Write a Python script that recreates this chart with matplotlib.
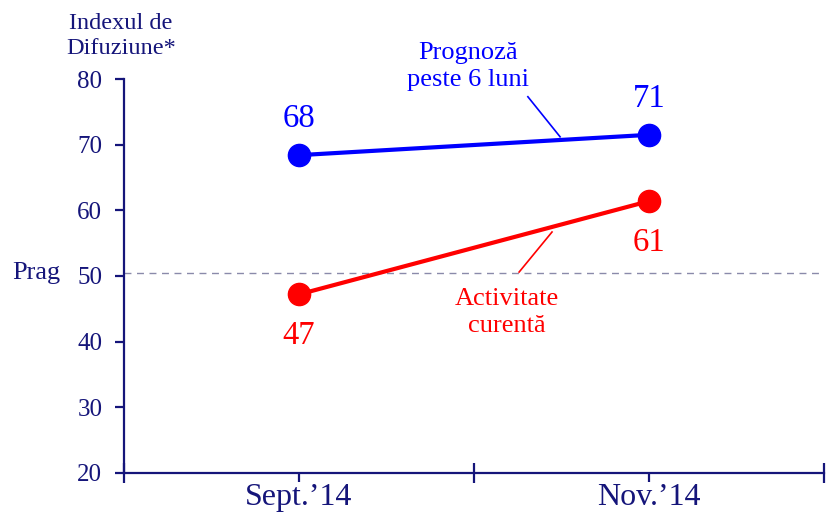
import matplotlib
matplotlib.use("Agg")
import matplotlib.pyplot as plt

plt.rcParams["font.family"] = ["Liberation Serif", "DejaVu Serif"]

# data
periods = ["Sept.\u201914", "Nov.\u201914"]
forecast = [68.4, 71.5]
forecast_labels = ["68", "71"]
current = [47.2, 61.4]
current_labels = ["47", "61"]
threshold = 50.4
yticks = [20, 30, 40, 50, 60, 70, 80]

navy = "#15157a"
blue = "#0000ff"
red = "#ff0000"

fig = plt.figure(figsize=(8.26, 5.12), dpi=100)
ax = fig.add_axes([0.150, 0.0762, 0.8476, 0.7695])

xpos = [0.5, 1.5]

ax.axhline(threshold, color="#8a8aaa", lw=1.0, ls=(0, (5, 4)), zorder=1)

ax.plot(xpos, forecast, color=blue, lw=3, marker="o", ms=16, zorder=3, clip_on=False)
ax.plot(xpos, current, color=red, lw=3, marker="o", ms=16, zorder=3, clip_on=False)

for x, v, s in zip(xpos, forecast, forecast_labels):
    ax.annotate(s, (x, v), xytext=(0, 26), textcoords="offset points",
                ha="center", va="center", fontsize=23.5, color=blue)
for x, v, s in zip(xpos, current, current_labels):
    ax.annotate(s, (x, v), xytext=(0, -30), textcoords="offset points",
                ha="center", va="center", fontsize=23.5, color=red)

# series call-outs
ax.plot([1.154, 1.246], [77.3, 71.2], color=blue, lw=1.2, clip_on=False)
ax.text(0.983, 81.9, "Prognoz\u0103\npeste 6 luni", ha="center", va="center",
        fontsize=19, color=blue, linespacing=1.3, clip_on=False)
ax.plot([1.223, 1.129], [56.7, 50.6], color=red, lw=1.2, clip_on=False)
ax.text(1.094, 44.5, "Activitate\ncurent\u0103", ha="center", va="center",
        fontsize=19, color=red, linespacing=1.3)

ax.set_xlim(0, 2)
ax.set_ylim(20, 80)
ax.set_yticks(yticks)
ax.set_xticks([0, 1, 2])
ax.set_xticklabels([])
ax.set_xticks(xpos, minor=True)
ax.set_xticklabels(periods, minor=True, fontsize=23, color=navy)

for side in ["top", "right"]:
    ax.spines[side].set_visible(False)
for side in ["left", "bottom"]:
    ax.spines[side].set_color(navy)
    ax.spines[side].set_linewidth(1.6)

ax.tick_params(axis="y", direction="out", length=6.5, width=1.6, pad=9,
               labelsize=18, colors=navy)
ax.tick_params(axis="x", which="major", direction="inout", length=14, width=1.6,
               colors=navy)
ax.tick_params(axis="x", which="minor", direction="out", length=6.5, width=1.6,
               pad=1, colors=navy)

fig.text(121 / 826, 1 - 36 / 512, "Indexul de\nDifuziune*", ha="center",
         va="center", fontsize=17.5, color=navy, linespacing=1.2)
fig.text(60 / 826, 1 - 273 / 512, "Prag", ha="right", va="center",
         fontsize=19, color=navy)

fig.savefig("out.png", dpi=100)
